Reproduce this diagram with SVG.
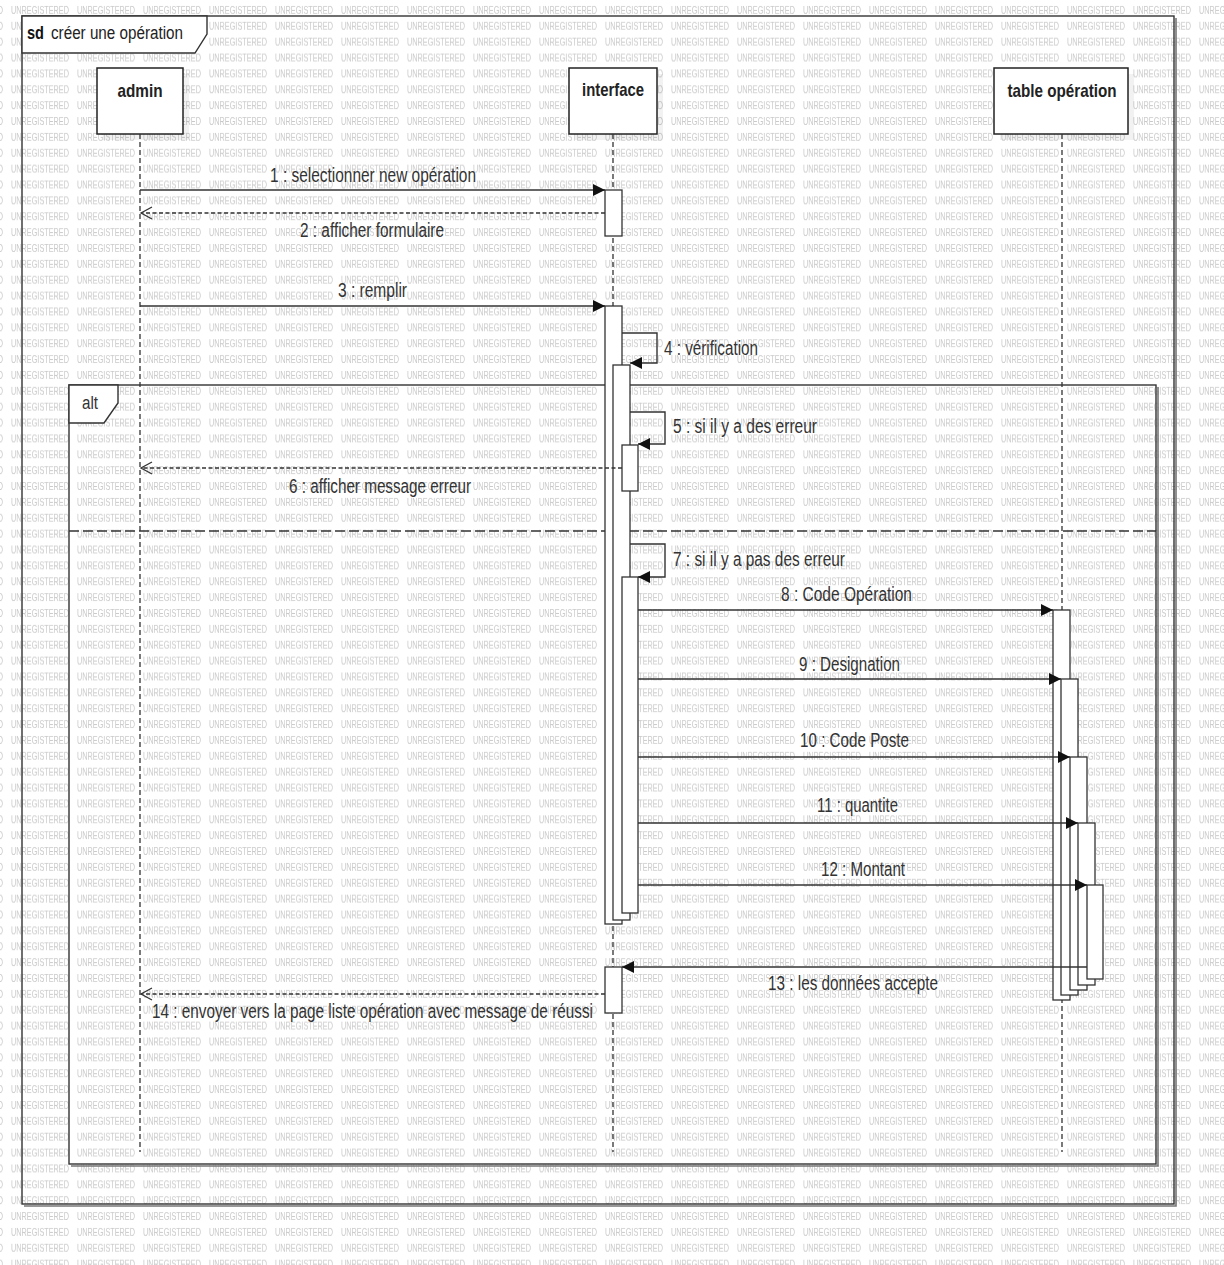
<svg xmlns="http://www.w3.org/2000/svg" width="1224" height="1265" viewBox="0 0 1224 1265">
<style>
text{font-family:"Liberation Sans",Arial,sans-serif;fill:#333;}
.lbl{font-size:20px;}
.head{font-size:19px;font-weight:bold;fill:#222;}
.frame{fill:none;stroke:#333;stroke-width:1.4;}
.fshadow{fill:none;stroke:#777;stroke-width:1.6;}
.tab{fill:#fff;stroke:#333;stroke-width:1.4;}
.box{fill:#fff;stroke:#222;stroke-width:1.5;}
.shadow{fill:#000;opacity:0.05;}
.life{stroke:#333;stroke-width:1.3;stroke-dasharray:5 3;fill:none;}
.act{fill:#fff;stroke:#333;stroke-width:1.3;}
.msg{stroke:#333;stroke-width:1.4;fill:none;}
.ret{stroke:#333;stroke-width:1.4;fill:none;stroke-dasharray:4 2.5;}
.sep{stroke:#333;stroke-width:1.5;stroke-dasharray:10 4;fill:none;}
.wm{font-size:11px;fill:#c9c9c9;}
</style>
<defs>
<pattern id="wm" patternUnits="userSpaceOnUse" x="11" y="0" width="66" height="15.87">
<text class="wm" x="0" y="13.8" textLength="58" lengthAdjust="spacingAndGlyphs">UNREGISTERED</text>
</pattern>
<marker id="filled" markerUnits="userSpaceOnUse" markerWidth="13" markerHeight="13" refX="12" refY="6" orient="auto">
<path d="M0,0 L12,6 L0,12 Z" fill="#111"/>
</marker>
<marker id="open" markerUnits="userSpaceOnUse" markerWidth="14" markerHeight="14" refX="12" refY="7" orient="auto">
<path d="M1,1 L12,7 L1,13" fill="none" stroke="#333" stroke-width="1.3"/>
</marker>
</defs>
<rect x="0" y="0" width="1224" height="1265" fill="#fff"/>
<rect x="0" y="0" width="1224" height="1265" fill="url(#wm)"/>

<g id="frame-sd">
<path class="fshadow" d="M24,1206 L1176,1206 L1176,18"/>
<rect class="frame" x="22" y="16" width="1152" height="1188"/>
<path class="tab" d="M22,16 L207,16 L207,34 L195,53 L22,53 Z"/>
<text x="27" y="39" style="font-size:18px;font-weight:bold;fill:#111" textLength="17" lengthAdjust="spacingAndGlyphs">sd</text>
<text x="51" y="39" style="font-size:18px;fill:#222" textLength="132" lengthAdjust="spacingAndGlyphs">créer une opération</text>
</g>

<g id="frame-alt">
<path class="fshadow" d="M71,1166 L1158,1166 L1158,387"/>
<rect class="frame" x="69" y="385" width="1087" height="779"/>
<path class="tab" d="M69,385 L118,385 L118,403 L104,423 L69,423 Z"/>
<text x="82" y="409" style="font-size:18px" textLength="16" lengthAdjust="spacingAndGlyphs">alt</text>
<line class="sep" x1="69" y1="531" x2="1156" y2="531"/>
</g>

<g id="node-admin">
<rect class="shadow" x="103" y="74" width="86" height="66"/>
<rect class="box" x="97" y="68" width="86" height="66"/>
<text class="head" x="140" y="97" text-anchor="middle" textLength="45" lengthAdjust="spacingAndGlyphs">admin</text>
<line class="life" x1="140" y1="134" x2="140" y2="1152"/>
</g>

<g id="node-interface">
<rect class="shadow" x="575" y="74" width="88" height="66"/>
<rect class="box" x="569" y="68" width="88" height="66"/>
<text class="head" x="613" y="96" text-anchor="middle" textLength="62" lengthAdjust="spacingAndGlyphs">interface</text>
<line class="life" x1="613" y1="134" x2="613" y2="1152"/>
<rect class="act" x="605" y="190" width="17" height="46"/>
<rect class="act" x="605" y="306" width="17" height="618"/>
<rect class="act" x="613" y="365" width="17" height="555"/>
<rect class="act" x="622" y="445" width="16" height="46"/>
<rect class="act" x="622" y="577" width="16" height="336"/>
<rect class="act" x="605" y="967" width="17" height="46"/>
</g>

<g id="node-table">
<rect class="shadow" x="1000" y="74" width="134" height="66"/>
<rect class="box" x="994" y="68" width="134" height="66"/>
<text class="head" x="1062" y="97" text-anchor="middle" textLength="109" lengthAdjust="spacingAndGlyphs">table opération</text>
<line class="life" x1="1062" y1="134" x2="1062" y2="1152"/>
<rect class="act" x="1053" y="610" width="17" height="390"/>
<rect class="act" x="1061" y="679" width="17" height="316"/>
<rect class="act" x="1070" y="757" width="17" height="233"/>
<rect class="act" x="1078" y="823" width="17" height="162"/>
<rect class="act" x="1087" y="885" width="16" height="94"/>
</g>

<g id="connectors">
<line class="msg" x1="140" y1="190" x2="605" y2="190" marker-end="url(#filled)"/>
<text class="lbl" x="270" y="182" textLength="206" lengthAdjust="spacingAndGlyphs">1 : selectionner new opération</text>

<line class="ret" x1="605" y1="213" x2="141" y2="213" marker-end="url(#open)"/>
<text class="lbl" x="300" y="237" textLength="144" lengthAdjust="spacingAndGlyphs">2 : afficher formulaire</text>

<line class="msg" x1="140" y1="306" x2="605" y2="306" marker-end="url(#filled)"/>
<text class="lbl" x="338" y="297" textLength="69" lengthAdjust="spacingAndGlyphs">3 : remplir</text>

<polyline class="msg" points="622,333 657,333 657,363 630,363" marker-end="url(#filled)"/>
<text class="lbl" x="664" y="355" textLength="94" lengthAdjust="spacingAndGlyphs">4 : vérification</text>

<polyline class="msg" points="630,412 665,412 665,444 638,444" marker-end="url(#filled)"/>
<text class="lbl" x="673" y="433" textLength="144" lengthAdjust="spacingAndGlyphs">5 : si il y a des erreur</text>

<line class="ret" x1="622" y1="468" x2="141" y2="468" marker-end="url(#open)"/>
<text class="lbl" x="289" y="493" textLength="182" lengthAdjust="spacingAndGlyphs">6 : afficher message erreur</text>

<polyline class="msg" points="630,544 665,544 665,577 638,577" marker-end="url(#filled)"/>
<text class="lbl" x="673" y="566" textLength="172" lengthAdjust="spacingAndGlyphs">7 : si il y a pas des erreur</text>

<line class="msg" x1="638" y1="610" x2="1053" y2="610" marker-end="url(#filled)"/>
<text class="lbl" x="781" y="601" textLength="131" lengthAdjust="spacingAndGlyphs">8 : Code Opération</text>

<line class="msg" x1="638" y1="679" x2="1061" y2="679" marker-end="url(#filled)"/>
<text class="lbl" x="799" y="671" textLength="101" lengthAdjust="spacingAndGlyphs">9 : Designation</text>

<line class="msg" x1="638" y1="757" x2="1070" y2="757" marker-end="url(#filled)"/>
<text class="lbl" x="800" y="747" textLength="109" lengthAdjust="spacingAndGlyphs">10 : Code Poste</text>

<line class="msg" x1="638" y1="823" x2="1078" y2="823" marker-end="url(#filled)"/>
<text class="lbl" x="817" y="812" textLength="81" lengthAdjust="spacingAndGlyphs">11 : quantite</text>

<line class="msg" x1="638" y1="885" x2="1087" y2="885" marker-end="url(#filled)"/>
<text class="lbl" x="821" y="876" textLength="84" lengthAdjust="spacingAndGlyphs">12 : Montant</text>

<line class="msg" x1="1087" y1="967" x2="622" y2="967" marker-end="url(#filled)"/>
<text class="lbl" x="768" y="990" textLength="170" lengthAdjust="spacingAndGlyphs">13 : les données accepte</text>

<line class="ret" x1="605" y1="994" x2="141" y2="994" marker-end="url(#open)"/>
<text class="lbl" x="152" y="1018" textLength="441" lengthAdjust="spacingAndGlyphs">14 : envoyer vers la page liste opération avec message de réussi</text>
</g>
</svg>
